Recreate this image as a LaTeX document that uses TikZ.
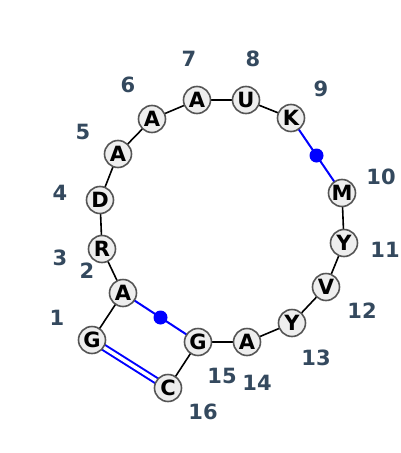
\documentclass[tikz,border=0pt]{standalone}
\usepackage{fontspec}
\setmainfont{DejaVu Sans}
\usetikzlibrary{backgrounds,calc}
\definecolor{nodefill}{HTML}{EEEEEE}
\definecolor{nodeedge}{HTML}{555555}
\definecolor{numcol}{HTML}{34495E}
\definecolor{pairblue}{HTML}{0000FF}
\tikzset{
  base/.style={circle, draw=nodeedge, line width=1.6pt, fill=nodefill, minimum size=27pt, inner sep=0pt, font=\fontsize{21}{21}\selectfont\bfseries, text=black},
  num/.style={font=\fontsize{21}{21}\selectfont\bfseries, text=numcol, inner sep=0pt},
  bb/.style={draw=black, line width=1.6pt},
  pair/.style={draw=pairblue, line width=2pt},
  dpair/.style={draw=pairblue, line width=2pt, double=white, double distance=3.5pt},
  pdot/.style={circle, fill=pairblue, minimum size=14pt, inner sep=0pt}
}
\begin{document}
\begin{tikzpicture}[x=1pt, y=-1pt]
\useasboundingbox (0,0) rectangle (400,453);
\node[base] (n1) at (92,340) {G};
\node[base] (n2) at (123,293) {A};
\node[base] (n3) at (102,249) {R};
\node[base] (n4) at (100,200) {D};
\node[base] (n5) at (118,154) {A};
\node[base] (n6) at (152,119) {A};
\node[base] (n7) at (197,100) {A};
\node[base] (n8) at (246,100) {U};
\node[base] (n9) at (291,118) {K};
\node[base] (n10) at (342,193) {M};
\node[base] (n11) at (344,243) {Y};
\node[base] (n12) at (326,287) {V};
\node[base] (n13) at (292,323) {Y};
\node[base] (n14) at (247,342) {A};
\node[base] (n15) at (198,342) {G};
\node[base] (n16) at (168,388) {C};
\begin{scope}[on background layer]
\draw[bb] (n1.center) -- (n2.center) -- (n3.center) -- (n4.center) -- (n5.center) -- (n6.center) -- (n7.center) -- (n8.center) -- (n9.center);
\draw[bb] (n10.center) -- (n11.center) -- (n12.center) -- (n13.center) -- (n14.center) -- (n15.center) -- (n16.center);
\draw[pair] (n9.center) -- (n10.center);
\draw[pair] (n2.center) -- (n15.center);
\draw[dpair] (n1.center) -- (n16.center);
\node[pdot] (d1) at ($(n9)!0.5!(n10)$) {};
\node[pdot] (d2) at ($(n2)!0.5!(n15)$) {};
\end{scope}
\node[num] (l1) at (57,318) {1};
\node[num] (l2) at (87,271) {2};
\node[num] (l3) at (60,258) {3};
\node[num] (l4) at (60,193) {4};
\node[num] (l5) at (83,132) {5};
\node[num] (l6) at (128,85) {6};
\node[num] (l7) at (189,59) {7};
\node[num] (l8) at (253,59) {8};
\node[num] (l9) at (321,89) {9};
\node[num] (l10) at (381,177) {10};
\node[num] (l11) at (385,250) {11};
\node[num] (l12) at (362,311) {12};
\node[num] (l13) at (316,358) {13};
\node[num] (l14) at (257,383) {14};
\node[num] (l15) at (222,376) {15};
\node[num] (l16) at (203,412) {16};
\end{tikzpicture}
\end{document}
